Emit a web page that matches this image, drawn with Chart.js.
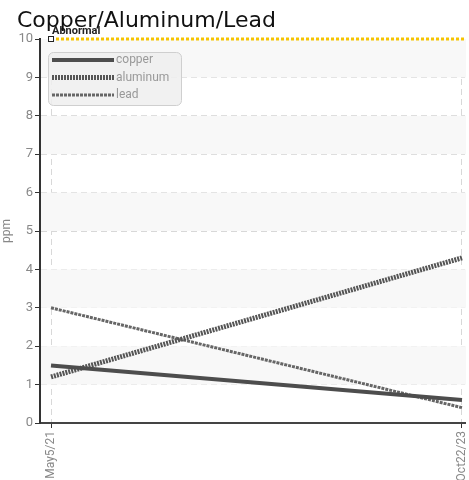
<!DOCTYPE html>
<html>
<head>
<title>Copper/Aluminum/Lead</title>
<script src="https://cdn.jsdelivr.net/npm/chart.js"></script>
<style>
  body { margin: 0; background: #fff; }
  #wrap { width: 469px; height: 480px; }
</style>
</head>
<body>
<div id="wrap"><canvas id="chart"></canvas></div>
<script>
// data
const dates = ['May5/21', 'Oct22/23'];
const copper = [1.5, 0.6];
const aluminum = [1.2, 4.3];
const lead = [3.0, 0.4];
const abnormal = 10;
const yTicks = [0, 1, 2, 3, 4, 5, 6, 7, 8, 9, 10];

const FONT = '"Liberation Sans Narrow", "Roboto", sans-serif';

function pts(vals) {
    return vals.map((v, i) => ({ x: i, y: v }));
}

// grey bands, abnormal line, title, legend
const extras = {
    id: 'extras',
    beforeDatasetsDraw(chart) {
        const ctx = chart.ctx, a = chart.chartArea, y = chart.scales.y;
        ctx.save();
        ctx.fillStyle = '#f8f8f8';
        for (let v = 1; v < 10; v += 2) {
            const top = y.getPixelForValue(v + 1), bot = y.getPixelForValue(v);
            ctx.fillRect(a.left + 1, top, a.right - a.left, bot - top);
        }
        ctx.restore();
    },
    afterDatasetsDraw(chart) {
        const ctx = chart.ctx, a = chart.chartArea;
        const x = chart.scales.x, y = chart.scales.y;
        ctx.save();
        // abnormal line
        const ya = y.getPixelForValue(abnormal);
        const x0 = x.getPixelForValue(0);
        ctx.strokeStyle = '#f5c400';
        ctx.lineWidth = 3;
        ctx.setLineDash([3, 2]);
        ctx.beginPath();
        ctx.moveTo(x0, ya);
        ctx.lineTo(a.right, ya);
        ctx.stroke();
        ctx.setLineDash([]);
        ctx.fillStyle = '#fff';
        ctx.strokeStyle = '#222';
        ctx.lineWidth = 1;
        ctx.fillRect(x0 - 2.5, ya - 2.5, 5, 5);
        ctx.strokeRect(x0 - 2.5, ya - 2.5, 5, 5);
        ctx.fillStyle = '#222';
        ctx.font = 'bold 11px ' + FONT;
        ctx.textBaseline = 'bottom';
        ctx.fillText('Abnormal', x0 + 1, ya - 2);

        // title
        ctx.fillStyle = '#111';
        ctx.font = '22px "DejaVu Sans", sans-serif';
        ctx.textBaseline = 'alphabetic';
        ctx.fillText('Copper/Aluminum/Lead', 17, 27);

        // legend box
        const lx = 48, ly = 52, lw = 133, lh = 53;
        ctx.fillStyle = 'rgba(238,238,238,0.85)';
        ctx.strokeStyle = '#cfcfcf';
        ctx.beginPath();
        ctx.roundRect(lx + 0.5, ly + 0.5, lw, lh, 5);
        ctx.fill();
        ctx.stroke();
        const ds = chart.data.datasets;
        ctx.font = '12px ' + FONT;
        ctx.textBaseline = 'middle';
        ds.forEach((d, i) => {
            const yy = ly + 8 + i * 17.5;
            ctx.strokeStyle = d.borderColor;
            ctx.lineWidth = d.borderWidth;
            ctx.setLineDash(d.borderDash || []);
            ctx.beginPath();
            ctx.moveTo(lx + 4, yy);
            ctx.lineTo(lx + 66, yy);
            ctx.stroke();
            ctx.setLineDash([]);
            ctx.fillStyle = '#999';
            ctx.fillText(d.label, lx + 68, yy);
        });
        ctx.restore();
    }
};

new Chart(document.getElementById('chart'), {
    type: 'line',
    data: {
        datasets: [
            {
                label: 'copper',
                data: pts(copper),
                borderColor: '#4d4d4d',
                borderWidth: 4,
                pointRadius: 0
            },
            {
                label: 'aluminum',
                data: pts(aluminum),
                borderColor: '#555555',
                borderWidth: 5,
                borderDash: [2, 1],
                pointRadius: 0
            },
            {
                label: 'lead',
                data: pts(lead),
                borderColor: '#666666',
                borderWidth: 3,
                borderDash: [3, 1],
                pointRadius: 0
            }
        ]
    },
    options: {
        responsive: true,
        maintainAspectRatio: false,
        animation: false,
        layout: { padding: { top: 39, right: 4, left: 0, bottom: 0 } },
        plugins: {
            legend: { display: false },
            tooltip: { enabled: false }
        },
        scales: {
            x: {
                type: 'linear',
                min: -0.0268,
                max: 1.0073,
                afterBuildTicks: s => { s.ticks = dates.map((d, i) => ({ value: i })); },
                afterFit: s => { s.height = 57; s.paddingLeft = 0; s.paddingRight = 0; },
                ticks: {
                    callback: (v) => dates[v],
                    maxRotation: 90,
                    minRotation: 90,
                    color: '#888',
                    font: { family: FONT, size: 12 }
                },
                grid: {
                    color: '#d8d8d8',
                    tickColor: '#333',
                    tickLength: 5,
                    tickBorderDash: []
                },
                border: { color: '#444', width: 2, dash: [6, 4] }
            },
            y: {
                min: 0,
                max: 10,
                afterBuildTicks: s => { s.ticks = yTicks.map(v => ({ value: v })); },
                afterFit: s => { s.width = 40; s.paddingTop = 0; s.paddingBottom = 0; },
                title: {
                    display: true,
                    text: 'ppm',
                    color: '#888',
                    font: { family: FONT, size: 12 },
                    padding: 0
                },
                ticks: {
                    color: '#888',
                    font: { family: FONT, size: 13 },
                    padding: 2
                },
                grid: {
                    color: '#d8d8d8',
                    tickColor: '#333',
                    tickLength: 5,
                    tickBorderDash: []
                },
                border: { color: '#333', width: 2, dash: [6, 4] }
            }
        }
    },
    plugins: [extras]
});
</script>
</body>
</html>
